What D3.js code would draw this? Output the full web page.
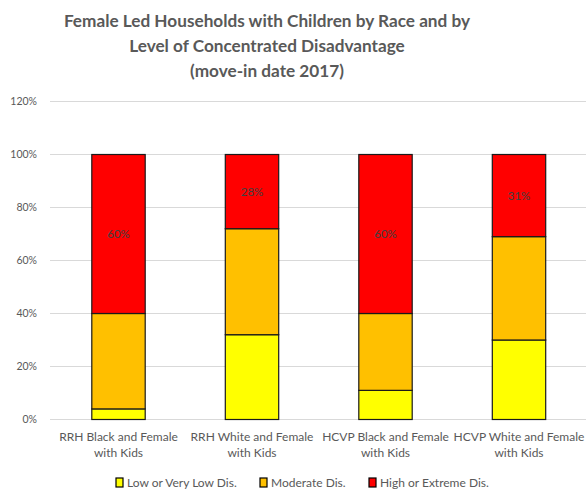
<!DOCTYPE html>
<html><head><meta charset="utf-8">
<script src="https://cdn.jsdelivr.net/npm/d3@7"></script>
<style>body{margin:0;background:#fff;} svg{display:block;}</style>
</head><body>
<svg id="c" width="586" height="491"></svg>
<script>
const categories = [
  ["RRH Black and Female", "with Kids"],
  ["RRH White and Female", "with Kids"],
  ["HCVP Black and Female", "with Kids"],
  ["HCVP White and Female", "with Kids"]
];
const seriesNames = ["Low or Very Low Dis.", "Moderate Dis.", "High or Extreme Dis."];
const lowVals = [0.04, 0.32, 0.11, 0.30];
const modVals = [0.36, 0.40, 0.29, 0.39];
const highVals = [0.60, 0.28, 0.60, 0.31];
const colors = ["#FFFF00", "#FFC000", "#FF0000"];
const yTicks = [0, 0.2, 0.4, 0.6, 0.8, 1.0, 1.2];
const titleLines = ["Female Led Households with Children by Race and by", "Level of Concentrated Disadvantage", "(move-in date 2017)"];

const font = "Lato, 'Open Sans', sans-serif";
const svg = d3.select("#c");
const rows = categories.map((c, i) => ({key: i, low: lowVals[i], mod: modVals[i], high: highVals[i]}));
const stack = d3.stack().keys(["low", "mod", "high"])(rows);

const x = d3.scaleBand().domain(d3.range(categories.length)).range([51.75, 585.75]).paddingInner(0.6).paddingOuter(0.3);
const y = d3.scaleLinear().domain([0, 1.2]).range([419.5, 101.5]);

// gridlines
svg.append("g").selectAll("line").data(yTicks).join("line")
  .attr("x1", 50).attr("x2", 586)
  .attr("y1", d => y(d)).attr("y2", d => y(d))
  .attr("stroke", "#d9d9d9").attr("stroke-width", 1);

// y axis labels
const yAxis = d3.axisLeft(y).tickValues(yTicks).tickFormat(d3.format(".0%")).tickSize(0).tickPadding(0);
const ya = svg.append("g").attr("transform", "translate(37,0)").call(yAxis);
ya.select(".domain").remove();
ya.selectAll("text").attr("font-family", font).attr("font-size", 10.5).attr("fill", "#595959");

// bars
svg.append("g").selectAll("g").data(stack).join("g")
  .attr("fill", (d, i) => colors[i])
  .selectAll("rect").data(d => d).join("rect")
  .attr("x", d => x(d.data.key))
  .attr("width", x.bandwidth())
  .attr("y", d => y(d[1]))
  .attr("height", d => y(d[0]) - y(d[1]))
  .attr("stroke", "#1a1a1a").attr("stroke-width", 1.2);

// labels on high series
svg.append("g").selectAll("text").data(stack[2]).join("text")
  .attr("x", d => x(d.data.key) + x.bandwidth() / 2)
  .attr("y", d => (y(d[0]) + y(d[1])) / 2)
  .attr("dy", "0.35em")
  .attr("text-anchor", "middle")
  .attr("font-family", font).attr("font-size", 11.5)
  .attr("fill", "#404040")
  .text(d => d3.format(".0%")(d.data.high));

// x axis labels
const xl = svg.append("g").selectAll("text").data(categories).join("text")
  .attr("text-anchor", "middle")
  .attr("font-family", font).attr("font-size", 12)
  .attr("fill", "#595959");
xl.each(function(d, i) {
  const t = d3.select(this);
  d.forEach((line, j) => {
    t.append("tspan").attr("x", x(i) + x.bandwidth() / 2).attr("y", 441 + j * 16).text(line);
  });
});

// title
svg.append("g").selectAll("text").data(titleLines).join("text")
  .attr("x", 267).attr("y", (d, i) => 27 + i * 25)
  .attr("text-anchor", "middle")
  .attr("font-family", font).attr("font-size", 17.2).attr("font-weight", "bold")
  .attr("fill", "#595959")
  .text(d => d);

// legend
const legendX = [116, 260, 369];
const lg = svg.append("g").selectAll("g").data(seriesNames).join("g")
  .attr("transform", (d, i) => `translate(${legendX[i]},478)`);
lg.append("rect").attr("width", 7).attr("height", 9).attr("fill", (d, i) => colors[i])
  .attr("stroke", "#000").attr("stroke-width", 1.2);
lg.append("text").attr("x", 11).attr("y", 9)
  .attr("font-family", font).attr("font-size", 12).attr("fill", "#595959")
  .text(d => d);
</script>
</body></html>
